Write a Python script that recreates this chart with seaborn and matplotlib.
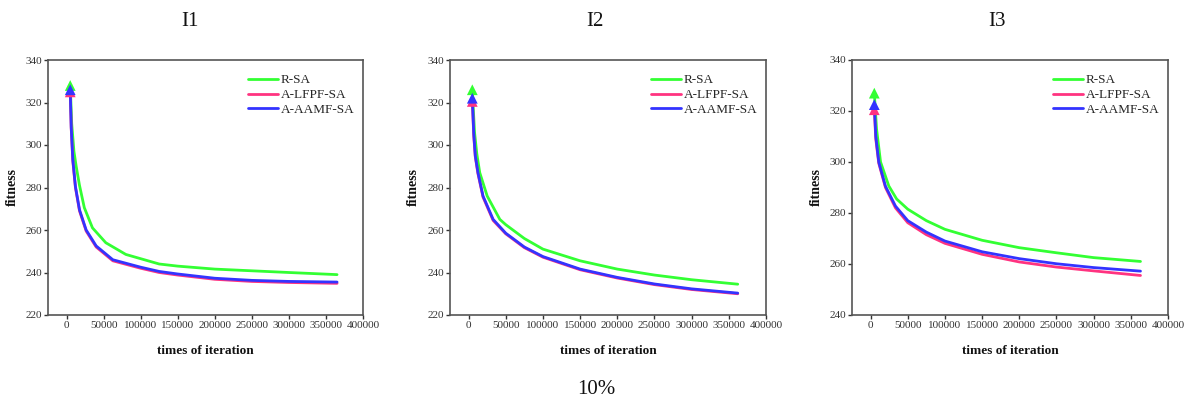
import numpy as np
import pandas as pd
import matplotlib
matplotlib.use("Agg")
import matplotlib.pyplot as plt
import seaborn as sns

sns.set_theme(style="white")
plt.rcParams['font.family'] = ['Liberation Serif', 'DejaVu Serif']

series_names = ["R-SA", "A-LFPF-SA", "A-AAMF-SA"]
colors = ["#33ff33", "#ff3380", "#3333ff"]
panel_titles = ["I1", "I2", "I3"]
footer_text = "10%"

# Panel I1 (iterations, fitness)
i1_rsa_x  = [5000, 7000, 10000, 13000, 17500, 24000, 35000, 53000, 80000, 125000, 150000, 200000, 250000, 300000, 365000]
i1_rsa_y  = [328, 310, 297, 290, 281, 270.5, 261, 254, 248.5, 244, 243, 241.6, 240.8, 240.0, 239.0]
i1_lfpf_x = [5000, 6300, 8500, 12000, 17500, 26500, 40000, 62500, 100000, 125000, 150000, 200000, 250000, 300000, 365000]
i1_lfpf_y = [325, 308, 292.5, 280, 269, 259.5, 252, 245.5, 242, 240, 238.8, 236.8, 235.8, 235.3, 234.9]
i1_aamf_x = [5000, 6300, 8500, 12000, 17500, 26500, 40000, 62500, 100000, 125000, 150000, 200000, 250000, 300000, 365000]
i1_aamf_y = [326, 308.5, 293, 280.5, 269.5, 260, 252.5, 246, 242.5, 240.5, 239.3, 237.3, 236.3, 235.8, 235.5]

# Panel I2
i2_rsa_x  = [5000, 8000, 11000, 15000, 25000, 42000, 50000, 75000, 100000, 150000, 200000, 250000, 300000, 362000]
i2_rsa_y  = [326, 306, 296, 287, 276, 265, 262.5, 256, 251, 245.5, 241.6, 238.8, 236.6, 234.5]
i2_lfpf_x = [5000, 7000, 9000, 12600, 19400, 33000, 50000, 75000, 100000, 150000, 200000, 250000, 300000, 362000]
i2_lfpf_y = [320.5, 304, 294.5, 286.5, 275.5, 264.5, 258.2, 251.7, 247.2, 241.3, 237.4, 234.3, 232.0, 230.0]
i2_aamf_x = [5000, 7000, 9000, 12600, 19400, 33000, 50000, 75000, 100000, 150000, 200000, 250000, 300000, 362000]
i2_aamf_y = [322, 305, 295, 287, 276, 265, 258.5, 252, 247.5, 241.6, 237.7, 234.6, 232.3, 230.3]

# Panel I3
i3_rsa_x  = [5000, 8000, 13400, 24500, 35000, 50000, 75000, 100000, 150000, 200000, 250000, 300000, 363000]
i3_rsa_y  = [327, 313, 300, 290.6, 285.5, 281.5, 277, 273.6, 269.3, 266.4, 264.4, 262.5, 261.0]
i3_lfpf_x = [5000, 7000, 11000, 20000, 33500, 50000, 75000, 100000, 150000, 200000, 250000, 300000, 363000]
i3_lfpf_y = [320.5, 309, 299.5, 290, 282, 276.2, 271.5, 268.1, 263.8, 260.8, 258.8, 257.3, 255.5]
i3_aamf_x = [5000, 7000, 11000, 20000, 33500, 50000, 75000, 100000, 150000, 200000, 250000, 300000, 363000]
i3_aamf_y = [322.5, 310, 300, 290.5, 282.7, 277, 272.5, 269, 264.8, 262.1, 260.1, 258.6, 257.2]

panel_data = [
    [(i1_rsa_x, i1_rsa_y), (i1_lfpf_x, i1_lfpf_y), (i1_aamf_x, i1_aamf_y)],
    [(i2_rsa_x, i2_rsa_y), (i2_lfpf_x, i2_lfpf_y), (i2_aamf_x, i2_aamf_y)],
    [(i3_rsa_x, i3_rsa_y), (i3_lfpf_x, i3_lfpf_y), (i3_aamf_x, i3_aamf_y)],
]
ylims = [(220, 340), (220, 340), (240, 340)]
xticks = [0, 50000, 100000, 150000, 200000, 250000, 300000, 350000, 400000]

W, H = 1192, 401
fig = plt.figure(figsize=(W / 100, H / 100), dpi=100)

ax_px = [(48, 363), (450, 766), (852, 1168)]
top_px, bot_px = 60, 315
title_x = [190, 595, 997]
ylab_px = [19, 420, 823]

for k in range(3):
    l, r = ax_px[k]
    ax = fig.add_axes([l / W, 1 - bot_px / H, (r - l) / W, (bot_px - top_px) / H])
    rows = []
    for name, (xs, ys) in zip(series_names, panel_data[k]):
        for x, v in zip(xs, ys):
            rows.append({"iter": x, "fitness": v, "series": name})
    df = pd.DataFrame(rows)
    sns.lineplot(data=df, x="iter", y="fitness", hue="series", hue_order=series_names,
                 palette=colors, linewidth=2.0, ax=ax, legend=True, sort=True)
    start = df.groupby("series", sort=False).head(1)
    sns.scatterplot(data=start, x="iter", y="fitness", hue="series", hue_order=series_names,
                    palette=colors, marker="^", s=60, edgecolor="none", ax=ax, legend=False, zorder=5)
    ax.set_xlim(-25000, 400000)
    ax.set_ylim(*ylims[k])
    ax.set_xticks(xticks)
    ax.set_xticklabels([str(t) for t in xticks])
    ax.set_yticks(np.arange(ylims[k][0], 341, 20))
    ax.tick_params(axis="both", which="major", labelsize=8, direction="out", length=3,
                   width=1, colors="#333333", bottom=True, left=True, top=False, right=False, pad=1.5)
    for sp in ax.spines.values():
        sp.set_color("#555555")
        sp.set_linewidth(1.2)
    ax.set_xlabel("times of iteration", fontsize=9.5, fontweight="bold", color="#111111")
    ax.set_ylabel("fitness", fontsize=10, fontweight="bold", color="#111111")
    ax.xaxis.set_label_coords(0.5, -(345 - bot_px) / (bot_px - top_px))
    ax.yaxis.set_label_coords(-(l - ylab_px[k]) / (r - l), 0.5)
    h, lb = ax.get_legend_handles_labels()
    ax.legend(h, lb, loc="upper left", bbox_to_anchor=(0.635, 0.945), frameon=False,
              fontsize=9.5, handlelength=2.3, handletextpad=0.2, labelspacing=0.2,
              borderaxespad=0, borderpad=0)
    fig.text(title_x[k] / W, 1 - 22 / H, panel_titles[k], ha="center", va="center",
             fontsize=15, color="#111111")

fig.text(596 / W, 1 - 390 / H, footer_text, ha="center", va="center", fontsize=15, color="#111111")

fig.savefig("out.png", dpi=100, facecolor="white")
